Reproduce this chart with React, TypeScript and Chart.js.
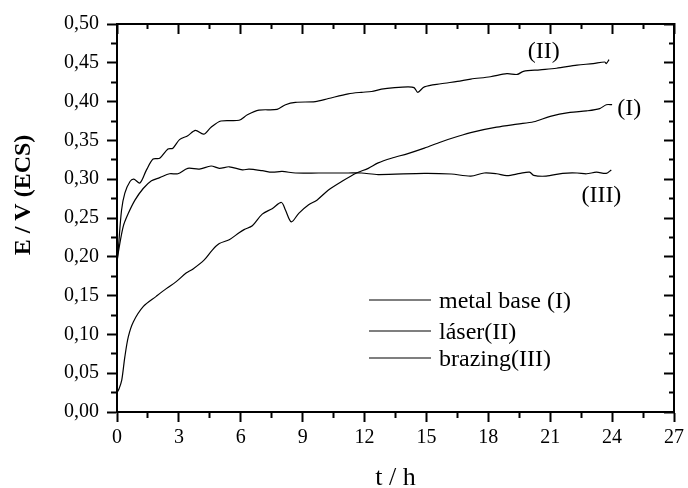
import React, { useEffect, useRef } from 'react';
import { Chart, registerables } from 'chart.js';

Chart.register(...registerables);

// ---- data ----
const seriesLabels = ['metal base (I)', 'láser(II)', 'brazing(III)'];

const tMetal = [0, 0.1, 0.23, 0.38, 0.55, 0.79, 1.28, 1.9, 2.39, 2.87, 3.35, 3.67, 4.23, 4.63, 4.96, 5.44, 5.92, 6.16, 6.56, 7.04, 7.52, 7.97, 8.17, 8.45, 8.81, 9.29, 9.69, 10.25, 10.89, 11.61, 12.18, 12.66, 13.3, 14.1, 14.9, 15.7, 16.5, 17.3, 18.4, 19.4, 20.2, 21.0, 21.96, 22.76, 23.4, 23.72, 24.0];
const vMetal = [0.025, 0.03, 0.041, 0.071, 0.097, 0.116, 0.136, 0.149, 0.159, 0.168, 0.179, 0.184, 0.196, 0.209, 0.217, 0.222, 0.231, 0.235, 0.24, 0.255, 0.262, 0.27, 0.26, 0.245, 0.256, 0.267, 0.273, 0.286, 0.297, 0.308, 0.314, 0.321, 0.327, 0.333, 0.34, 0.348, 0.355, 0.361, 0.367, 0.371, 0.374, 0.381, 0.386, 0.388, 0.391, 0.396, 0.396];

const tLaser = [0, 0.06, 0.22, 0.38, 0.63, 0.82, 1.11, 1.43, 1.75, 2.07, 2.47, 2.71, 3.03, 3.43, 3.8, 4.2, 4.56, 5.04, 5.92, 6.32, 6.88, 7.76, 8.17, 8.65, 9.61, 10.25, 11.21, 11.85, 12.34, 12.82, 13.46, 14.1, 14.4, 14.58, 14.9, 15.7, 16.5, 17.15, 18.1, 18.9, 19.4, 19.7, 20.5, 21.3, 22.3, 23.08, 23.64, 23.72, 23.85];
const vLaser = [0.193, 0.209, 0.26, 0.282, 0.297, 0.3, 0.295, 0.312, 0.326, 0.327, 0.339, 0.34, 0.351, 0.356, 0.363, 0.358, 0.367, 0.375, 0.376, 0.383, 0.389, 0.39, 0.396, 0.399, 0.4, 0.404, 0.41, 0.412, 0.413, 0.416, 0.418, 0.419, 0.418, 0.412, 0.419, 0.423, 0.426, 0.429, 0.432, 0.436, 0.435, 0.439, 0.441, 0.443, 0.447, 0.449, 0.451, 0.449, 0.454];

const tBrazing = [0, 0.06, 0.3, 0.55, 0.87, 1.27, 1.67, 2.07, 2.55, 2.95, 3.43, 3.99, 4.56, 4.96, 5.44, 6.08, 6.4, 7.04, 7.52, 8.0, 8.65, 9.77, 10.25, 11.2, 11.85, 12.66, 14.9, 16.2, 17.15, 17.8, 18.4, 18.9, 19.55, 20.0, 20.2, 20.8, 21.6, 22.3, 22.76, 23.24, 23.72, 23.96];
const vBrazing = [0.193, 0.205, 0.239, 0.256, 0.273, 0.288, 0.298, 0.302, 0.307, 0.307, 0.314, 0.313, 0.317, 0.314, 0.316, 0.312, 0.313, 0.311, 0.309, 0.31, 0.308, 0.308, 0.308, 0.308, 0.308, 0.306, 0.3076, 0.3067, 0.304, 0.308, 0.307, 0.3045, 0.3076, 0.309, 0.305, 0.304, 0.3076, 0.308, 0.307, 0.309, 0.3076, 0.312];

const xTickLabels = ['0', '3', '6', '9', '12', '15', '18', '21', '24', '27'];
const yTickLabels = ['0,00', '0,05', '0,10', '0,15', '0,20', '0,25', '0,30', '0,35', '0,40', '0,45', '0,50'];

const curveTags = ['(I)', '(II)', '(III)'];
const curveTagT = [24.83, 20.69, 23.48];
const curveTagV = [0.393, 0.4665, 0.281];

const xTitle = 't / h';
const yTitle = 'E / V (ECS)';

// ---- helpers ----
const FONT = '"Liberation Serif", "Times New Roman", serif';
const X_STEP = 1.5;
const Y_STEP = 0.025;
const xIdx = (v: number) => Math.round(v / X_STEP);
const yIdx = (v: number) => Math.round(v / Y_STEP);
const xMajor = (v: number) => xIdx(v) % 2 === 0;
const yMajor = (v: number) => yIdx(v) % 2 === 0;

const toPoints = (t: number[], v: number[]) => t.map((x, i) => ({ x, y: v[i] }));

const overlayPlugin = {
  id: 'overlay',
  afterDraw(chart: any) {
    const ctx = chart.ctx;
    const xs = chart.scales.x;
    const ys = chart.scales.y;
    const ca = chart.chartArea;
    ctx.save();
    ctx.fillStyle = '#000';
    ctx.strokeStyle = '#000';

    // curve tags
    ctx.font = `24px ${FONT}`;
    ctx.textAlign = 'center';
    ctx.textBaseline = 'middle';
    curveTags.forEach((s, i) => {
      ctx.fillText(s, xs.getPixelForValue(curveTagT[i]), ys.getPixelForValue(curveTagV[i]) + 2);
    });

    // legend
    const lx = ca.left + 252;
    const lys = [ca.top + 276, ca.top + 307, ca.top + 334];
    ctx.textAlign = 'left';
    chart.data.datasets.forEach((ds: any, i: number) => {
      ctx.lineWidth = 1.2;
      ctx.beginPath();
      ctx.moveTo(lx, lys[i]);
      ctx.lineTo(lx + 62, lys[i]);
      ctx.stroke();
      ctx.fillText(ds.label, lx + 70, lys[i] + 2);
    });

    // y title
    ctx.save();
    ctx.translate(24, 195);
    ctx.rotate(-Math.PI / 2);
    ctx.font = `bold 24px ${FONT}`;
    ctx.textAlign = 'center';
    ctx.textBaseline = 'middle';
    ctx.fillText(yTitle, 0, 0);
    ctx.restore();

    // x title
    ctx.font = `26px ${FONT}`;
    ctx.textAlign = 'center';
    ctx.textBaseline = 'alphabetic';
    ctx.fillText(xTitle, (ca.left + ca.right) / 2, 485);
    ctx.restore();
  },
};

export default function App() {
  const ref = useRef<HTMLCanvasElement | null>(null);

  useEffect(() => {
    if (!ref.current) return;
    const common = { borderColor: '#000', backgroundColor: '#000', borderWidth: 1.2, pointRadius: 0, tension: 0.3, fill: false };
    const border = { display: true, color: '#000', width: 2 };
    const chart = new Chart(ref.current, {
      type: 'line',
      data: {
        datasets: [
          { label: seriesLabels[0], data: toPoints(tMetal, vMetal), ...common },
          { label: seriesLabels[1], data: toPoints(tLaser, vLaser), ...common },
          { label: seriesLabels[2], data: toPoints(tBrazing, vBrazing), ...common },
        ],
      },
      options: {
        responsive: false,
        animation: false,
        events: [],
        layout: { padding: { left: 0, top: 24, right: 10, bottom: 0 } },
        plugins: { legend: { display: false }, tooltip: { enabled: false }, title: { display: false } },
        scales: {
          x: {
            type: 'linear',
            position: 'bottom',
            min: 0,
            max: 27,
            afterFit: (s: any) => { s.height = 76; },
            ticks: {
              stepSize: X_STEP,
              autoSkip: false,
              maxRotation: 0,
              padding: 4,
              color: '#000',
              font: { family: FONT, size: 20 },
              callback: (v: any) => (xMajor(v) ? xTickLabels[xIdx(v) / 2] ?? '' : ''),
            },
            grid: {
              drawOnChartArea: false,
              drawTicks: true,
              tickLength: 10,
              tickWidth: 2,
              tickColor: '#000',
              tickBorderDash: (c: any) => (c.tick && xMajor(c.tick.value) ? [] : [5, 100]),
            },
            border,
          },
          x2: {
            type: 'linear',
            position: 'top',
            min: 0,
            max: 27,
            afterFit: (s: any) => { s.height = 0; },
            ticks: { display: false, stepSize: X_STEP, autoSkip: false },
            grid: {
              drawOnChartArea: false,
              drawTicks: true,
              tickLength: -10,
              tickWidth: 2,
              tickColor: '#000',
              tickBorderDash: (c: any) => (c.tick && xMajor(c.tick.value) ? [] : [0, 5, 6, 100]),
            },
            border,
          },
          y: {
            type: 'linear',
            position: 'left',
            min: 0,
            max: 0.5,
            afterFit: (s: any) => { s.width = 117; },
            ticks: {
              stepSize: Y_STEP,
              autoSkip: false,
              padding: 8,
              color: '#000',
              font: { family: FONT, size: 20 },
              callback: (v: any) => (yMajor(v) ? yTickLabels[yIdx(v) / 2] ?? '' : ''),
            },
            grid: {
              drawOnChartArea: false,
              drawTicks: true,
              tickLength: 10,
              tickWidth: 2,
              tickColor: '#000',
              tickBorderDash: (c: any) => (c.tick && yMajor(c.tick.value) ? [] : [0, 4, 5, 100]),
            },
            border,
          },
          y2: {
            type: 'linear',
            position: 'right',
            min: 0,
            max: 0.5,
            afterFit: (s: any) => { s.width = 0; },
            ticks: { display: false, stepSize: Y_STEP, autoSkip: false },
            grid: {
              drawOnChartArea: false,
              drawTicks: true,
              tickLength: -10,
              tickWidth: 2,
              tickColor: '#000',
              tickBorderDash: (c: any) => (c.tick && yMajor(c.tick.value) ? [] : [6, 100]),
            },
            border,
          },
        },
      },
      plugins: [overlayPlugin],
    } as any);
    return () => chart.destroy();
  }, []);

  return (
    <div style={{ position: 'absolute', left: 0, top: 0, width: 688, height: 488, background: '#fff' }}>
      <canvas ref={ref} width={688} height={488} style={{ display: 'block' }} />
    </div>
  );
}
